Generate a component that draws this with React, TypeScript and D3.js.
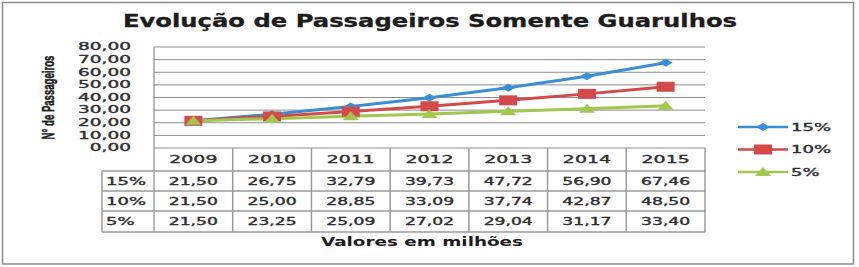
import React from "react";
import * as d3 from "d3";

const years = ["2009", "2010", "2011", "2012", "2013", "2014", "2015"];
const s15 = [21.5, 26.75, 32.79, 39.73, 47.72, 56.9, 67.46];
const s10 = [21.5, 25.0, 28.85, 33.09, 37.74, 42.87, 48.5];
const s5 = [21.5, 23.25, 25.09, 27.02, 29.04, 31.17, 33.4];
const seriesNames = ["15%", "10%", "5%"];
const yTicks = [0, 10, 20, 30, 40, 50, 60, 70, 80];
const title = "Evolução de Passageiros Somente Guarulhos";
const yTitle = "N° de Passageiros";
const xTitle = "Valores em milhões";

const colors = ["#3A8ED4", "#D24A4A", "#A2C64E"];
const markers = ["diamond", "square", "triangle"];

const fmt = (v: number) => v.toFixed(2).replace(".", ",");

function SText({ x, y, sx, size, anchor, children, weight, fill }: any) {
  const c = fill || "#2e2e2e";
  return (
    <text
      transform={`translate(${x},${y}) scale(${sx},1)`}
      fontSize={size}
      textAnchor={anchor || "middle"}
      dominantBaseline="central"
      fontFamily="DejaVu Sans, Verdana, sans-serif"
      fontWeight={weight || "normal"}
      fill={c}
      stroke={c}
      strokeWidth={0.35}
    >
      {children}
    </text>
  );
}

function Marker({ type, x, y, color }: any) {
  if (type === "diamond") {
    return <path d={`M${x - 7},${y} L${x},${y - 4} L${x + 7},${y} L${x},${y + 4} Z`} fill={color} />;
  }
  if (type === "square") {
    return <rect x={x - 9} y={y - 5} width={18} height={10} fill={color} />;
  }
  return <path d={`M${x - 8},${y + 4} L${x},${y - 5} L${x + 8},${y + 4} Z`} fill={color} />;
}

export default function App() {
  const W = 859, H = 267;
  const x = d3.scaleBand().domain(years).range([154, 705]);
  const y = d3.scaleLinear().domain([0, 80]).range([148, 47]);
  const series = [s15, s10, s5];
  const line = d3
    .line<number>()
    .x((_, i) => (x(years[i]) as number) + x.bandwidth() / 2)
    .y((d) => y(d));

  const rowTops = [171, 191, 211, 232];
  const headerMid = (148 + 171) / 2;

  return (
    <svg width={W} height={H} style={{ position: "absolute", left: 0, top: 0, background: "#fff" }}>
      <rect x={0} y={0} width={W} height={H} fill="#fff" />
      <rect x={2.5} y={2.5} width={851} height={261.5} fill="none" stroke="#8a8a8a" strokeWidth={1.5} />

      <text
        x={430}
        y={27}
        textAnchor="middle"
        fontFamily="DejaVu Sans, Verdana, sans-serif"
        fontWeight="bold"
        fontSize={17}
        fill="#1c1c1c"
        stroke="#1c1c1c"
        strokeWidth={0.3}
        textLength={614}
        lengthAdjust="spacingAndGlyphs"
      >
        {title}
      </text>

      {/* gridlines */}
      {yTicks.map((t) => (
        <line key={t} x1={154} x2={705} y1={y(t)} y2={y(t)} stroke="#8c8c8c" strokeWidth={1} />
      ))}
      <line x1={154} x2={154} y1={y(80)} y2={232} stroke="#8c8c8c" strokeWidth={1.2} />

      {/* y tick labels */}
      {yTicks.map((t) => (
        <SText key={t} x={131} y={y(t)} sx={1.85} size={10} anchor="end">
          {fmt(t)}
        </SText>
      ))}

      <text
        transform={`translate(49,97.5) rotate(-90) scale(0.6,1)`}
        textAnchor="middle"
        dominantBaseline="central"
        fontFamily="Liberation Sans, Arial, sans-serif"
        fontWeight="bold"
        fontSize={16}
        fill="#1c1c1c"
        stroke="#1c1c1c"
        strokeWidth={0.5}
      >
        {yTitle}
      </text>

      {/* series lines */}
      {series.map((s, i) => (
        <path key={i} d={line(s) as string} fill="none" stroke={colors[i]} strokeWidth={3} />
      ))}
      {series.map((s, i) =>
        s.map((v, j) => (
          <Marker
            key={`${i}-${j}`}
            type={markers[i]}
            x={(x(years[j]) as number) + x.bandwidth() / 2}
            y={y(v)}
            color={colors[i]}
          />
        ))
      )}

      {/* data table */}
      {years.map((yr) => (
        <line
          key={yr}
          x1={(x(yr) as number) + x.bandwidth()}
          x2={(x(yr) as number) + x.bandwidth()}
          y1={148}
          y2={232}
          stroke="#9a9a9a"
          strokeWidth={1.5}
        />
      ))}
      <line x1={102} x2={102} y1={171} y2={232} stroke="#9a9a9a" strokeWidth={1.5} />
      {rowTops.map((r) => (
        <line key={r} x1={102} x2={705} y1={r} y2={r} stroke="#9a9a9a" strokeWidth={1.5} />
      ))}
      {years.map((yr) => (
        <SText key={yr} x={(x(yr) as number) + x.bandwidth() / 2} y={headerMid} sx={1.72} size={11}>
          {yr}
        </SText>
      ))}
      {series.map((s, i) => (
        <g key={i}>
          <SText x={106} y={(rowTops[i] + rowTops[i + 1]) / 2} sx={1.8} size={10} anchor="start">
            {seriesNames[i]}
          </SText>
          {s.map((v, j) => (
            <SText
              key={j}
              x={(x(years[j]) as number) + x.bandwidth() / 2}
              y={(rowTops[i] + rowTops[i + 1]) / 2}
              sx={1.72}
              size={10}
            >
              {fmt(v)}
            </SText>
          ))}
        </g>
      ))}

      <text
        x={422}
        y={242}
        textAnchor="middle"
        dominantBaseline="central"
        fontFamily="DejaVu Sans, Verdana, sans-serif"
        fontWeight="bold"
        fontSize={11.5}
        fill="#1c1c1c"
        textLength={202}
        lengthAdjust="spacingAndGlyphs"
      >
        {xTitle}
      </text>

      {/* legend */}
      {seriesNames.map((n, i) => {
        const ly = 127 + i * 22.5;
        return (
          <g key={n}>
            <line x1={738} x2={788} y1={ly} y2={ly} stroke={colors[i]} strokeWidth={2.5} />
            <Marker type={markers[i]} x={763} y={ly} color={colors[i]} />
            <SText x={791} y={ly} sx={1.8} size={10} anchor="start">
              {n}
            </SText>
          </g>
        );
      })}
    </svg>
  );
}
